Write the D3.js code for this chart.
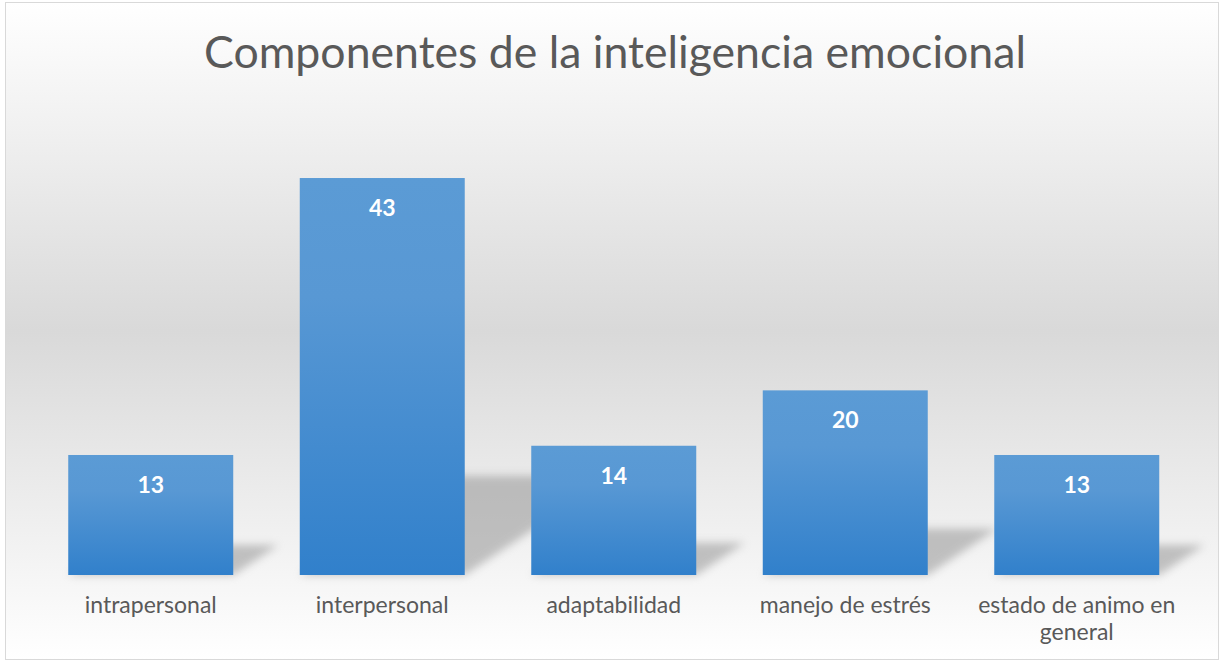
<!DOCTYPE html>
<html><head><meta charset="utf-8">
<script src="https://cdn.jsdelivr.net/npm/d3@7"></script>
<style>
html,body{margin:0;padding:0;background:#fff;}
svg{display:block;}
</style></head>
<body>
<svg id="chart" width="1220" height="660"></svg>
<script>
const title = "Componentes de la inteligencia emocional";
const categories = ["intrapersonal", "interpersonal", "adaptabilidad", "manejo de estrés", "estado de animo en general"];
const values = [13, 43, 14, 20, 13];
const yDomain = [0, 50];

const W = 1220, H = 660;
const svg = d3.select("#chart");
const defs = svg.append("defs");
const FONT = "Lato, 'Open Sans', sans-serif";

const bg = defs.append("linearGradient").attr("id","bg").attr("x1",0).attr("y1",0).attr("x2",0).attr("y2",1);
bg.append("stop").attr("offset","0").attr("stop-color","#ffffff");
bg.append("stop").attr("offset","0.5").attr("stop-color","#d9d9d9");
bg.append("stop").attr("offset","1").attr("stop-color","#ffffff");

const bar = defs.append("linearGradient").attr("id","bar").attr("x1",0).attr("y1",0).attr("x2",0).attr("y2",1);
bar.append("stop").attr("offset","0").attr("stop-color","#5b9bd5");
bar.append("stop").attr("offset","0.3").attr("stop-color","#5898d4");
bar.append("stop").attr("offset","1").attr("stop-color","#3180cb");

const blur = defs.append("filter").attr("id","blur").attr("x","-50%").attr("y","-50%").attr("width","200%").attr("height","200%");
blur.append("feGaussianBlur").attr("stdDeviation",4);

svg.append("rect").attr("x",5.5).attr("y",2.5).attr("width",W-7).attr("height",H-3)
  .attr("fill","url(#bg)").attr("stroke","#d9d9d9").attr("stroke-width",1);

const x = d3.scaleBand().domain(categories).range([35, 1192.5]).paddingInner(0.2873).paddingOuter(0.1436);
const y = d3.scaleLinear().domain(yDomain).range([575, 113.4]);

const data = categories.map((c,i)=>({c, v: values[i]}));

// shadows
svg.append("g").selectAll("path").data(data).join("path")
  .attr("d", d => {
    const x0 = x(d.c), x1 = x0 + x.bandwidth(), b = y(0);
    const h = (y(0) - y(d.v)) * 0.25, dx = h * 1.5;
    return `M${x0},${b}L${x1},${b}L${x1+dx},${b-h}L${x0+dx},${b-h}Z`;
  })
  .attr("fill","#8c8c8c").attr("opacity",0.5).attr("filter","url(#blur)");

svg.append("g").selectAll("rect").data(data).join("rect")
  .attr("x", d => x(d.c)).attr("width", x.bandwidth())
  .attr("y", d => y(d.v)).attr("height", d => y(0) - y(d.v))
  .attr("fill","url(#bar)");

svg.append("g").selectAll("text").data(data).join("text")
  .attr("x", d => x(d.c) + x.bandwidth()/2).attr("y", d => y(d.v) + 38)
  .attr("text-anchor","middle").attr("font-family",FONT).attr("font-weight","bold")
  .attr("font-size",23).attr("fill","#ffffff").text(d => d.v);

// x axis labels
const xAxis = svg.append("g").attr("transform","translate(0,575)")
  .call(d3.axisBottom(x).tickSize(0).tickPadding(0));
xAxis.select(".domain").remove();
xAxis.selectAll("text").attr("font-family",FONT).attr("font-size",23).attr("fill","#595959")
  .attr("dy",0).attr("y",38)
  .each(function(){
    const t = d3.select(this), words = t.text().split(/\s+/);
    t.text(null);
    let line = [], tsp = t.append("tspan").attr("x",0).attr("y",38);
    let ln = 0;
    for (const w of words) {
      line.push(w); tsp.text(line.join(" "));
      if (tsp.node().getComputedTextLength() > 215 && line.length > 1) {
        line.pop(); tsp.text(line.join(" "));
        line = [w]; ln++;
        tsp = t.append("tspan").attr("x",0).attr("y",38 + ln*27).text(w);
      }
    }
  });

svg.append("text").attr("x", 615).attr("y", 68).attr("text-anchor","middle")
  .attr("font-family",FONT).attr("font-size",44.6).attr("fill","#595959").text(title);
</script>
</body></html>
